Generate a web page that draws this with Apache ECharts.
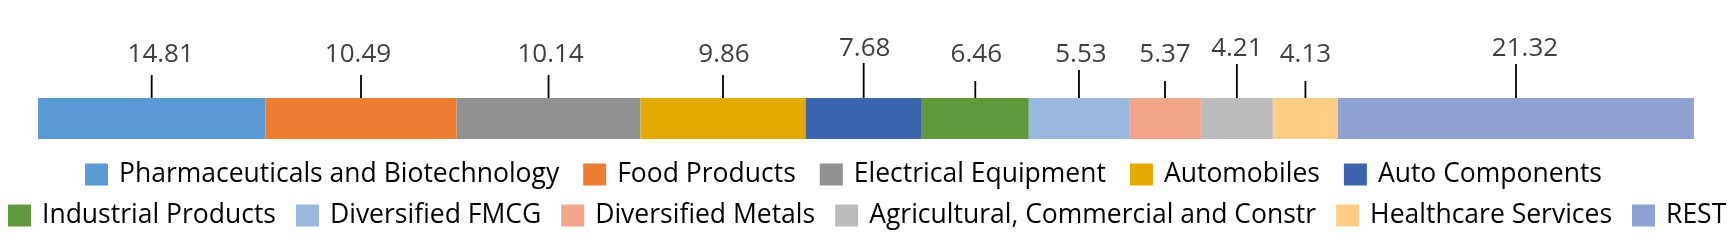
<!DOCTYPE html>
<html>
<head>
<meta charset="utf-8">
<script src="https://cdn.jsdelivr.net/npm/echarts@6/dist/echarts.min.js"></script>
<style>
  html, body { margin: 0; padding: 0; background: #ffffff; }
  #chart { width: 1731px; height: 251px; }
</style>
</head>
<body>
<div id="chart"></div>
<script>
// ---------- DATA ----------
const categories = [
  'Pharmaceuticals and Biotechnology',
  'Food Products',
  'Electrical Equipment',
  'Automobiles',
  'Auto Components',
  'Industrial Products',
  'Diversified FMCG',
  'Diversified Metals',
  'Agricultural, Commercial and Constr',
  'Healthcare Services',
  'REST'
];
// segment lengths as drawn in the picture
const segmentValues = [13.73, 11.55, 11.10, 9.97, 7.02, 6.46, 6.06, 4.33, 4.35, 3.93, 21.50];
// printed labels
const labelValues = [14.81, 10.49, 10.14, 9.86, 7.68, 6.46, 5.53, 5.37, 4.21, 4.13, 21.32];
const colors = ['#5B9BD5', '#ED7D31', '#919191', '#E3AA00', '#3D64AE', '#5F9B3D',
                '#98B8E0', '#F1A58A', '#BCBCBC', '#FFCE84', '#8FA2D4'];
const firstLegendRow = 5;

// ---------- LAYOUT (label leader lines) ----------
const leaderLen   = [23, 23, 23, 23, 35, 17, 28, 17, 34, 17, 34];
const labelRaise  = [43.5, 43.5, 43.5, 43.5, 49.5, 43.5, 43.5, 43.5, 49.5, 43.5, 49.5];
const labelShiftX = [9, -3, 2, 1, 1, 1, 2, 0, 0, 0, 9];

const chart = echarts.init(document.getElementById('chart'), null, { renderer: 'canvas' });

let cum = 0;
const mids = segmentValues.map(v => { const m = cum + v / 2; cum += v; return m; });

const series = categories.map((name, i) => ({
  name: name,
  type: 'bar',
  stack: 'total',
  data: [segmentValues[i]],
  barWidth: '100%',
  itemStyle: { color: colors[i] },
  silent: true
}));

series.push({
  type: 'custom',
  silent: true,
  z: 10,
  data: mids.map((m, i) => [m, 0, i]),
  encode: { x: 0, y: 1 },
  renderItem: function (params, api) {
    const i = api.value(2);
    const c = api.coord([api.value(0), 0]);
    const h = api.size([0, 1])[1];
    const top = c[1] - h / 2;
    return {
      type: 'group',
      children: [
        { type: 'line', shape: { x1: c[0], y1: top, x2: c[0], y2: top - leaderLen[i] },
          style: { stroke: '#000', lineWidth: 1.8 } },
        { type: 'text', x: c[0] + labelShiftX[i], y: top - labelRaise[i],
          style: { text: labelValues[i].toFixed(2), fill: '#3F3F3F',
                   font: '400 26px "Open Sans"', align: 'center', verticalAlign: 'middle' } }
      ]
    };
  }
});

const legendCommon = {
  orient: 'horizontal',
  icon: 'rect',
  itemWidth: 23,
  itemHeight: 22,
  padding: 0,
  selectedMode: false,
  textStyle: { fontFamily: 'Open Sans', fontSize: 26.5, color: '#000', padding: [0, 0, 0, 6] }
};

chart.setOption({
  animation: false,
  backgroundColor: '#ffffff',
  grid: { left: 38, right: 37, top: 98, height: 41, containLabel: false },
  xAxis: { type: 'value', min: 0, max: 100, show: false },
  yAxis: { type: 'category', data: ['Sectors'], show: false },
  legend: [
    Object.assign({}, legendCommon, { data: categories.slice(0, firstLegendRow), left: 85, top: 161, itemGap: 24 }),
    Object.assign({}, legendCommon, { data: categories.slice(firstLegendRow), left: 8, top: 202, itemGap: 20 })
  ],
  series: series
});
</script>
</body>
</html>
